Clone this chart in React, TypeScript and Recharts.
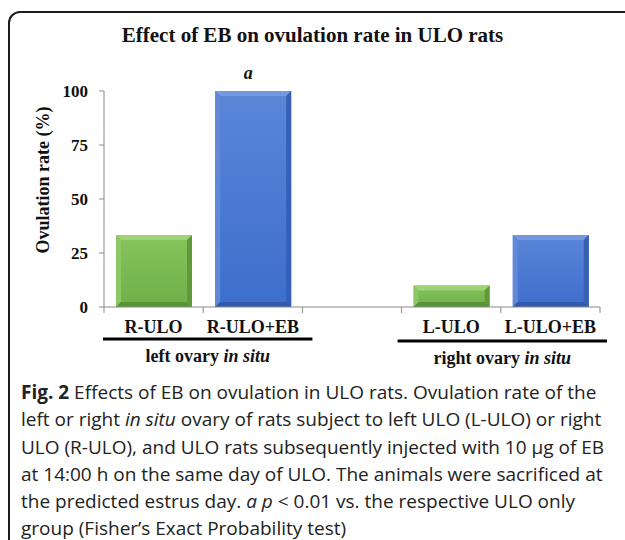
import React from 'react';
import { BarChart, Bar, XAxis, YAxis, LabelList } from 'recharts';

// ---- data ----
const categories = ['R-ULO', 'R-ULO+EB', '', 'L-ULO', 'L-ULO+EB'];
const ovulationRate: (number | null)[] = [33.3, 100, null, 10, 33.3];
const significance = ['', 'a', '', '', ''];
const yTicks = [0, 25, 50, 75, 100];
const groupLabels = ['left ovary', 'right ovary'];
const title = 'Effect of EB on ovulation rate in ULO rats';
const yLabel = 'Ovulation rate (%)';

const data = categories.map((name, i) => ({
  name,
  value: ovulationRate[i],
  sig: significance[i],
}));

// ---- layout / styles ----
const CHART_W = 625;
const CHART_H = 390;
const MARGIN = { top: 91, right: 25, left: 44, bottom: 23 };
const YAXIS_W = 60;
const XAXIS_H = 60;
const PLOT_W = CHART_W - MARGIN.left - YAXIS_W - MARGIN.right;
const BAND = PLOT_W / categories.length;
const SERIF = '"Liberation Serif", "Times New Roman", serif';
const SANS = '"Open Sans", "Noto Sans", sans-serif';

const GREEN = { top: '#86c35c', bottom: '#70b048', light: '#9ed378', lightSide: '#8bc762', dark: '#5e9a3a', darker: '#5a9436' };
const BLUE = { top: '#5b86d8', bottom: '#3d6ecc', light: '#7598e0', lightSide: '#6189da', dark: '#3460b6', darker: '#3159ac' };

const paletteFor = (name: string) => (name.indexOf('+EB') >= 0 ? BLUE : GREEN);

const BevelBar = (props: any) => {
  const { x, y, width: w, height: h, payload } = props;
  if (h == null || h <= 0 || w == null) return null;
  const p = paletteFor(payload.name);
  const b = Math.min(5, h / 3);
  const gid = p === BLUE ? 'gradBlue' : 'gradGreen';
  return (
    <g>
      <rect x={x} y={y} width={w} height={h} fill={`url(#${gid})`} />
      <polygon points={`${x},${y} ${x + w},${y} ${x + w - b},${y + b} ${x + b},${y + b}`} fill={p.light} />
      <polygon points={`${x},${y} ${x + b},${y + b} ${x + b},${y + h - b} ${x},${y + h}`} fill={p.lightSide} />
      <polygon points={`${x + w},${y} ${x + w},${y + h} ${x + w - b},${y + h - b} ${x + w - b},${y + b}`} fill={p.dark} />
      <polygon points={`${x},${y + h} ${x + b},${y + h - b} ${x + w - b},${y + h - b} ${x + w},${y + h}`} fill={p.darker} />
    </g>
  );
};

const XTick = (props: any) => {
  const { x, y, payload, index } = props;
  const left = x - BAND / 2;
  const right = x + BAND / 2;
  const last = index === categories.length - 1;
  return (
    <g>
      <line x1={left} y1={y} x2={left} y2={y + 6} stroke="#8a8a8a" strokeWidth={1} />
      {last && <line x1={right} y1={y} x2={right} y2={y + 6} stroke="#8a8a8a" strokeWidth={1} />}
      <text x={x} y={y + 26} textAnchor="middle" fontFamily={SERIF} fontWeight="bold" fontSize={18} fill="#111">
        {payload.value}
      </text>
      {index === 1 && (
        <g>
          <line x1={x - 1.5 * BAND - 1} y1={y + 32} x2={x + 0.5 * BAND + 10} y2={y + 32} stroke="#000" strokeWidth={3} />
          <text x={(x - 1.5 * BAND + x + 0.5 * BAND + 9) / 2} y={y + 55} textAnchor="middle" fontFamily={SERIF} fontWeight="bold" fontSize={18} fill="#111">
            {groupLabels[0]} <tspan fontStyle="italic">in situ</tspan>
          </text>
        </g>
      )}
      {index === 4 && (
        <g>
          <line x1={x - 1.5 * BAND - 4} y1={y + 34} x2={x + 0.5 * BAND + 7} y2={y + 34} stroke="#000" strokeWidth={3} />
          <text x={(x - 1.5 * BAND - 4 + x + 0.5 * BAND + 7) / 2} y={y + 57} textAnchor="middle" fontFamily={SERIF} fontWeight="bold" fontSize={18} fill="#111">
            {groupLabels[1]} <tspan fontStyle="italic">in situ</tspan>
          </text>
        </g>
      )}
    </g>
  );
};

const SigLabel = (props: any) => {
  const { x, y, width, value } = props;
  if (!value) return null;
  return (
    <text x={x + width / 2 - 5} y={y - 12} textAnchor="middle" fontFamily={SERIF} fontWeight="bold" fontStyle="italic" fontSize={18} fill="#111">
      {value}
    </text>
  );
};

const YLabel = () => (
  <text x={49} y={180} transform="rotate(-90 49 180)" textAnchor="middle" fontFamily={SERIF} fontWeight="bold" fontSize={18} fill="#111">
    {yLabel}
  </text>
);

const captionLines: React.ReactNode[] = [
  <><b>Fig. 2</b> Effects of EB on ovulation in ULO rats. Ovulation rate of the</>,
  <>left or right <i>in situ</i> ovary of rats subject to left ULO (L-ULO) or right</>,
  <>ULO (R-ULO), and ULO rats subsequently injected with 10 μg of EB</>,
  <>at 14:00 h on the same day of ULO. The animals were sacrificed at</>,
  <>the predicted estrus day. <i>a p</i> &lt; 0.01 vs. the respective ULO only</>,
  <>group (Fisher’s Exact Probability test)</>,
];

export default function App() {
  return (
    <div style={{ position: 'absolute', left: 0, top: 0, width: 625, height: 540, overflow: 'hidden', background: '#fff' }}>
      <div
        style={{
          position: 'absolute',
          left: 8,
          top: 11,
          width: 660,
          height: 600,
          border: '2px solid #1c1c1c',
          borderTopLeftRadius: 12,
          boxSizing: 'border-box',
        }}
      />
      <div
        style={{
          position: 'absolute',
          left: 0,
          top: 22,
          width: 625,
          textAlign: 'center',
          fontFamily: SERIF,
          fontWeight: 'bold',
          fontSize: 21,
          lineHeight: '26px',
          color: '#111',
        }}
      >
        {title}
      </div>
      <div style={{ position: 'absolute', left: 0, top: 0 }}>
        <BarChart width={CHART_W} height={CHART_H} data={data} margin={MARGIN}>
          <defs>
            <linearGradient id="gradGreen" x1="0" y1="0" x2="0" y2="1">
              <stop offset="0%" stopColor={GREEN.top} />
              <stop offset="100%" stopColor={GREEN.bottom} />
            </linearGradient>
            <linearGradient id="gradBlue" x1="0" y1="0" x2="0" y2="1">
              <stop offset="0%" stopColor={BLUE.top} />
              <stop offset="100%" stopColor={BLUE.bottom} />
            </linearGradient>
          </defs>
          <XAxis
            dataKey="name"
            height={XAXIS_H}
            interval={0}
            tickLine={false}
            tickSize={0}
            tickMargin={0}
            axisLine={{ stroke: '#8a8a8a' }}
            tick={<XTick />}
          />
          <YAxis
            width={YAXIS_W}
            domain={[0, 100]}
            ticks={yTicks}
            interval={0}
            tickSize={5}
            tickMargin={11}
            axisLine={{ stroke: '#8a8a8a' }}
            tickLine={{ stroke: '#8a8a8a' }}
            tick={{ fontFamily: SERIF, fontWeight: 'bold', fontSize: 17, fill: '#111' }}
            label={<YLabel />}
          />
          <Bar dataKey="value" barSize={76} shape={<BevelBar />} isAnimationActive={false}>
            <LabelList dataKey="sig" content={<SigLabel />} />
          </Bar>
        </BarChart>
      </div>
      <div
        style={{
          position: 'absolute',
          left: 21,
          top: 379,
          fontFamily: SANS,
          fontSize: 19,
          lineHeight: '27.3px',
          color: '#222',
          whiteSpace: 'nowrap',
        }}
      >
        {captionLines.map((l, i) => (
          <div key={i}>{l}</div>
        ))}
      </div>
    </div>
  );
}
